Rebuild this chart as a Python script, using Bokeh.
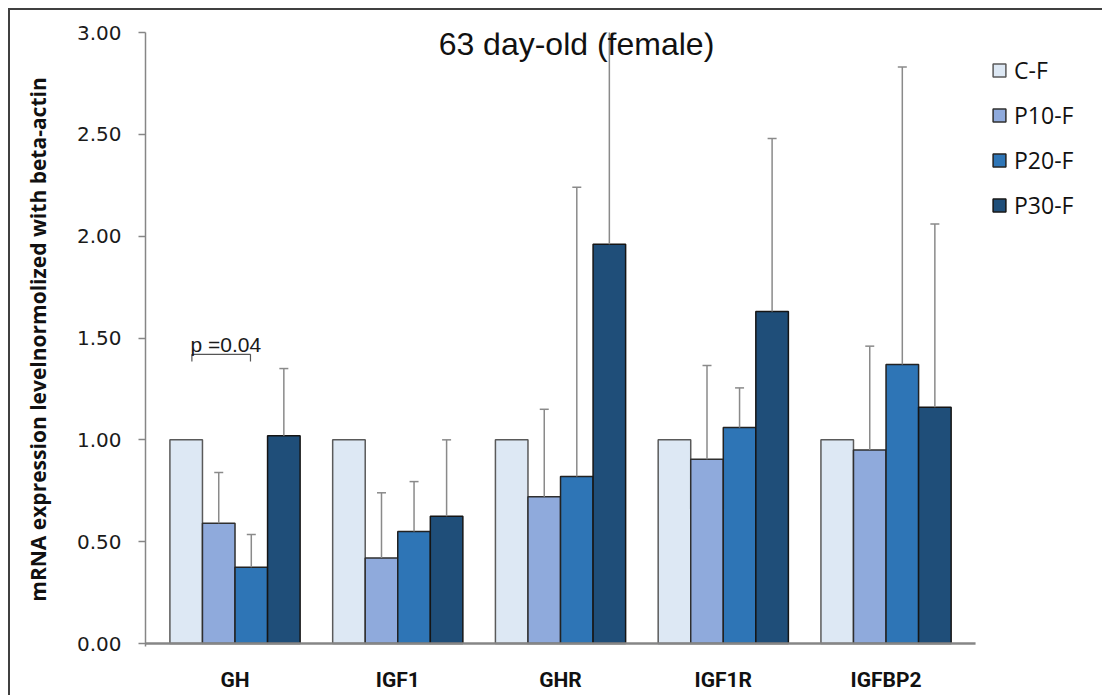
from bokeh.plotting import figure
from bokeh.models import (Range1d, ColumnDataSource, Legend, LegendItem,
                          FixedTicker, NumeralTickFormatter, Label, InlineStyleSheet)
from bokeh.embed import file_html
from bokeh.resources import INLINE

# Relative mRNA expression (normalised to beta-actin), mean and upper SD
genes = ["GH", "IGF1", "GHR", "IGF1R", "IGFBP2"]
groups = ["C-F", "P10-F", "P20-F", "P30-F"]
c_f = [1.00, 1.00, 1.00, 1.00, 1.00]
p10_f = [0.59, 0.42, 0.72, 0.905, 0.95]
p20_f = [0.375, 0.55, 0.82, 1.06, 1.37]
p30_f = [1.02, 0.625, 1.96, 1.63, 1.16]
p10_sd = [0.25, 0.32, 0.43, 0.46, 0.51]
p20_sd = [0.16, 0.245, 1.42, 0.195, 1.46]
p30_sd = [0.33, 0.375, 1.30, 0.85, 0.90]
y_ticks = [0.0, 0.5, 1.0, 1.5, 2.0, 2.5, 3.0]

# significance annotation on GH (C-F vs P20-F)
p_text = "p =0.04"
bracket_y = 1.42
bracket_drop = 0.035

colors = ["#DDE8F4", "#8FAADC", "#2E75B6", "#1F4E79"]
edges = ["#5a5a5a", "#2f2f2f", "#222222", "#151515"]
offsets = [-0.3, -0.1, 0.1, 0.3]
bar_w = 0.2
means = [c_f, p10_f, p20_f, p30_f]
sds = [None, p10_sd, p20_sd, p30_sd]

# category slots: each gene occupies one unit, centred on i + 0.5
centers = [i + 0.5 for i in range(len(genes))]
x_lo, x_hi = -0.05, len(genes) + 0.05

p = figure(width=1102, height=695,
           x_range=Range1d(x_lo, 5.83), y_range=Range1d(-0.0147, 3.0),
           output_backend="svg", toolbar_location=None,
           min_border_left=145, min_border_right=0,
           min_border_top=32, min_border_bottom=49)
p.outline_line_color = None
p.xgrid.grid_line_color = None
p.ygrid.grid_line_color = None
p.background_fill_color = "white"
p.border_fill_color = "white"

legend_items = []
for name, col, edge, off, m, sd in zip(groups, colors, edges, offsets, means, sds):
    xs = [c + off for c in centers]
    data = dict(x=xs, top=m)
    if sd is not None:
        data["upper"] = [a + b for a, b in zip(m, sd)]
    src = ColumnDataSource(data)
    r = p.vbar(x="x", top="top", bottom=0, width=bar_w, source=src,
               fill_color=col, line_color=edge, line_width=1.5)
    legend_items.append(LegendItem(label=name, renderers=[r]))
    if sd is not None:
        p.segment(x0="x", y0="top", x1="x", y1="upper",
                  source=src, line_color="#8a8a8a", line_width=1.5)
        p.scatter(x="x", y="upper", marker="dash", size=9, source=src,
                  line_color="#8a8a8a", line_width=1.5)

# category axis baseline
p.segment(x0=[x_lo], y0=[0], x1=[x_hi], y1=[0], line_color="#868686", line_width=2.5)

# bracket between C-F and P20-F of GH
bl = centers[0] + offsets[0] + 0.035
br = centers[0] + offsets[2] - 0.005
p.multi_line(xs=[[bl, br], [bl, bl], [br, br]],
             ys=[[bracket_y, bracket_y], [bracket_y, bracket_y - bracket_drop],
                 [bracket_y, bracket_y - bracket_drop]],
             line_color="#555555", line_width=1.2)
p.add_layout(Label(x=bl - 0.008, y=bracket_y + 0.05, text=p_text, text_font="Liberation Sans",
                   text_font_size="21px", text_color="#1a1a1a",
                   text_align="left", text_baseline="alphabetic"))

# title sitting over the top of the plot area
p.add_layout(Label(x=2.598, y=2.944, text="63 day-old (female)", text_font="Liberation Sans",
                   text_font_size="32px", text_color="#111111",
                   text_align="center", text_baseline="alphabetic"))

# y axis
p.yaxis.ticker = FixedTicker(ticks=y_ticks)
p.yaxis.formatter = NumeralTickFormatter(format="0.00")
p.yaxis.axis_line_color = "#868686"
p.yaxis.axis_line_width = 1.5
p.yaxis.major_tick_line_color = "#868686"
p.yaxis.major_tick_line_width = 1.5
p.yaxis.major_tick_out = 7
p.yaxis.major_tick_in = 0
p.yaxis.minor_tick_line_color = None
p.yaxis.major_label_text_font = "DejaVu Sans"
p.yaxis.major_label_text_font_size = "20px"
p.yaxis.major_label_text_color = "#1a1a1a"
p.yaxis.major_label_standoff = 17
p.yaxis.axis_label = "mRNA expression levelnormolized with beta-actin"
p.yaxis.axis_label_text_font = "Open Sans"
p.yaxis.axis_label_text_font_style = "bold"
p.yaxis.axis_label_text_font_size = "21px"
p.yaxis.axis_label_text_color = "#111111"
p.yaxis.axis_label_standoff = 22

# x axis: gene names under each group
p.xaxis.ticker = FixedTicker(ticks=centers)
p.xaxis.major_label_overrides = {c: g for c, g in zip(centers, genes)}
p.xaxis.axis_line_color = None
p.xaxis.major_tick_line_color = None
p.xaxis.major_tick_out = 0
p.xaxis.major_tick_in = 0
p.xaxis.minor_tick_line_color = None
p.xaxis.major_label_text_font = "Roboto"
p.xaxis.major_label_text_font_style = "bold"
p.xaxis.major_label_text_font_size = "21px"
p.xaxis.major_label_text_color = "#111111"
p.xaxis.major_label_standoff = 21

legend = Legend(items=legend_items, location=(846, 425), orientation="vertical",
                glyph_width=16, glyph_height=16, label_height=32, spacing=13,
                label_standoff=7, padding=0, margin=0,
                label_text_font="Open Sans", label_text_font_size="23px",
                label_text_color="#111111",
                border_line_color=None, background_fill_alpha=0)
p.add_layout(legend)

# thin frame line along the left and top edges of the page
p.stylesheets = [InlineStyleSheet(css=(
    ":host::after { content: ''; position: absolute; left: 8px; top: 8px; right: 0; bottom: 0;"
    " border-left: 2px solid #404040; border-top: 2px solid #404040; pointer-events: none; }"))]

open("out.html", "w").write(file_html(p, INLINE))
